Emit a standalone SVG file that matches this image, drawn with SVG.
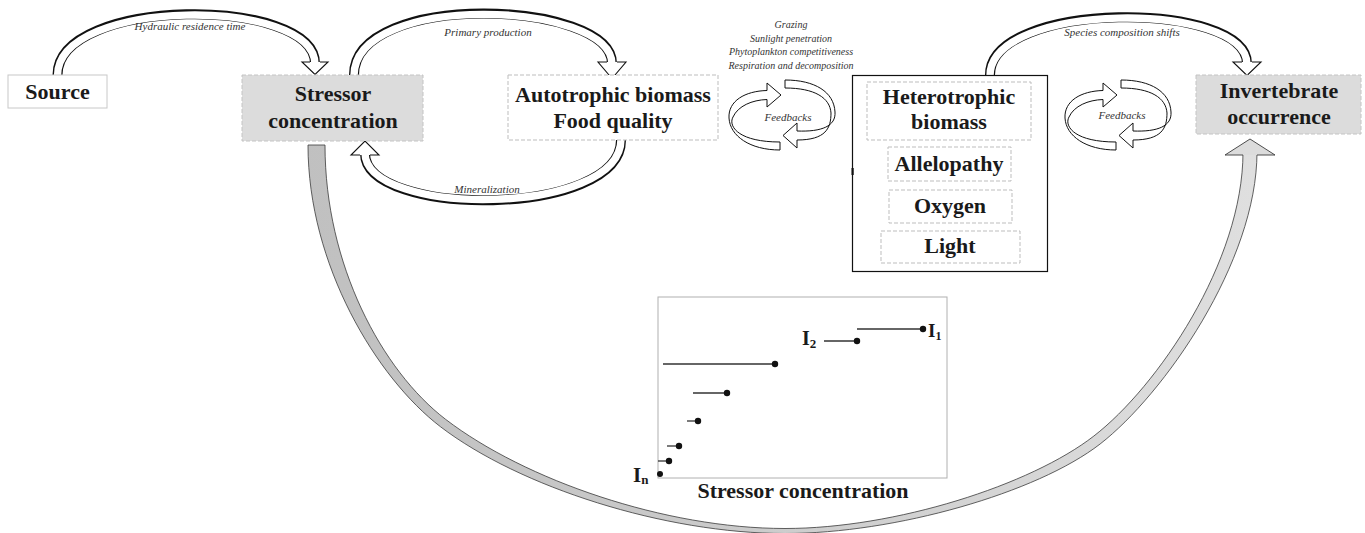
<svg xmlns="http://www.w3.org/2000/svg" width="1365" height="533" viewBox="0 0 1365 533">
<defs>
<style>
.lbl{font-family:"Liberation Serif","Times New Roman",serif;font-weight:bold;font-size:22px;fill:#1a1a1a;text-anchor:middle}
.ann{font-family:"Liberation Serif","Times New Roman",serif;font-style:italic;font-size:11px;fill:#333;text-anchor:middle}
.lst{font-family:"Liberation Serif","Times New Roman",serif;font-style:italic;font-size:10px;fill:#333;text-anchor:middle}
.sub{font-family:"Liberation Serif","Times New Roman",serif;font-weight:bold;fill:#1a1a1a}
.dash{fill:#fff;stroke:#bdbdbd;stroke-width:1;stroke-dasharray:4 2}
.gray{fill:#dcdcdc;stroke:#c4c4c4;stroke-width:1;stroke-dasharray:4 2}
.rb{fill:none;stroke:#111;stroke-width:10}
.rw{fill:none;stroke:#fff;stroke-width:7.4}
.head{fill:#fff;stroke:#111;stroke-width:1.1;stroke-linejoin:miter}
.loop{fill:#fff;stroke:#111;stroke-width:1}
.step{stroke:#333;stroke-width:1.3}
.dot{fill:#111}
</style>
<linearGradient id="bandGrad" gradientUnits="userSpaceOnUse" x1="300" y1="0" x2="1280" y2="0">
<stop offset="0" stop-color="#c0c0c0"/>
<stop offset="0.45" stop-color="#cbcbcb"/>
<stop offset="1" stop-color="#e0e0e0"/>
</linearGradient>
<g id="loopShape">
<path class="loop" d="M780,142 C738,142 728,126 733,117 C738,106 752,100 767,99.5 L767,107 L781,95 L767,83 L767,90.5 C745,91 728,101 729,118 C730,136 750,150 780,150 Z"/>
<path class="loop" d="M785,80 C815,80 834,92 835,112 C836,126 822,132 797,131 L797,123 L783,135.5 L797,148 L797,140 C826,140 831,128 831,113 C830,98 815,88 785,88 Z"/>
</g>
</defs>
<rect width="1365" height="533" fill="#fff"/>

<g id="connectors">
<!-- Hydraulic residence time -->
<path class="rb" d="M57.5,75 C57.5,-4 315,-4 315,63.5"/>
<path class="rw" d="M57.5,75 C57.5,-4 315,-4 315,63.5" transform="translate(0,0.8)"/>
<path class="head" d="M310,62 L302,62 L315,74.5 L328,62 L320,62"/>
<!-- Primary production -->
<path class="rb" d="M354,75 C354,-10 612,0 612,63.5"/>
<path class="rw" d="M354,75 C354,-10 612,0 612,63.5" transform="translate(0,0.8)"/>
<path class="head" d="M607,62 L598,62 L612,78.5 L626,62 L617,62"/>
<!-- Mineralization -->
<path class="rb" d="M621,140 C621,218 365,218 365,153.5"/>
<path class="rw" d="M621,140 C621,218 365,218 365,153.5" transform="translate(0,-0.8)"/>
<path class="head" d="M370,155 L379,155 L365,141 L351,155 L360,155"/>
<!-- Species composition shifts -->
<path class="rb" d="M990,75 C990,0 1247,0 1247,63.5"/>
<path class="rw" d="M990,75 C990,0 1247,0 1247,63.5" transform="translate(0,0.8)"/>
<path class="head" d="M1242,62 L1233,62 L1247,75.5 L1261,62 L1252,62"/>
<!-- Feedback loops -->
<use href="#loopShape"/>
<use href="#loopShape" transform="translate(336,0)"/>
<!-- Big stressor to invertebrate arc -->
<path fill="url(#bandGrad)" stroke="#3a3a3a" stroke-width="0.8" d="M308,145 C308,265 376.8,378.0 440.3,426.6 C519.7,487.3 665,533.5 785,533.5 C895,533.5 1036.9,493.0 1100.1,444.0 C1163.3,395.0 1257,262 1257,152 L1243,152 C1243,262 1157.1,387.1 1093.9,436.0 C1030.7,485.1 895,528.5 785,528.5 C665,528.5 525.1,480.1 445.7,419.4 C382.2,370.8 325,265 325,145 Z"/>
<path fill="#dcdcdc" stroke="#3a3a3a" stroke-width="0.9" d="M1243,155 L1225,155 L1250,139 L1275,155 L1257,155"/>
</g>

<g id="labels">
<text class="ann" x="190" y="30">Hydraulic residence time</text>
<text class="ann" x="488" y="36">Primary production</text>
<text class="ann" x="487" y="193">Mineralization</text>
<text class="ann" x="1122" y="36">Species composition shifts</text>
<text class="lst" x="791" y="28">Grazing</text>
<text class="lst" x="791" y="41.5">Sunlight penetration</text>
<text class="lst" x="791" y="55">Phytoplankton competitiveness</text>
<text class="lst" x="791" y="68.5">Respiration and decomposition</text>
<text class="ann" x="788" y="121">Feedbacks</text>
<text class="ann" x="1122" y="119">Feedbacks</text>
</g>

<g id="source">
<rect x="8" y="75" width="99" height="33" fill="#fff" stroke="#c8c8c8" stroke-width="1"/>
<text class="lbl" x="57.5" y="99">Source</text>
</g>

<g id="stressor">
<rect class="gray" x="242" y="75" width="181" height="66"/>
<text class="lbl" x="333" y="101">Stressor</text>
<text class="lbl" x="333" y="128">concentration</text>
</g>

<g id="autotrophic">
<rect class="dash" x="508" y="75" width="210" height="65"/>
<text class="lbl" x="613" y="102">Autotrophic biomass</text>
<text class="lbl" x="613" y="128">Food quality</text>
</g>

<g id="heterotrophic-group">
<rect x="852.5" y="75.5" width="195" height="196" fill="#fff" stroke="#111" stroke-width="1.2"/>
<rect x="851.5" y="168" width="2.2" height="7" fill="#111"/>
<g id="heterotrophic">
<rect class="dash" x="867" y="82" width="164" height="58"/>
<text class="lbl" x="949" y="104">Heterotrophic</text>
<text class="lbl" x="949" y="129">biomass</text>
</g>
<g id="allelopathy">
<rect class="dash" x="888" y="147" width="123" height="34"/>
<text class="lbl" x="949" y="171">Allelopathy</text>
</g>
<g id="oxygen">
<rect class="dash" x="889" y="190" width="123" height="33"/>
<text class="lbl" x="950" y="213">Oxygen</text>
</g>
<g id="light">
<rect class="dash" x="881" y="231" width="139" height="32"/>
<text class="lbl" x="950" y="253">Light</text>
</g>
</g>

<g id="invertebrate">
<rect class="gray" x="1196" y="75" width="165" height="59"/>
<text class="lbl" x="1279" y="98">Invertebrate</text>
<text class="lbl" x="1279" y="124">occurrence</text>
</g>

<g id="chart">
<rect x="658" y="297" width="289" height="181" fill="#fff" stroke="#b0b0b0" stroke-width="1"/>
<line class="step" x1="857" y1="329" x2="923" y2="329"/>
<circle class="dot" cx="923" cy="329" r="3.2"/>
<line class="step" x1="824" y1="341" x2="857" y2="341" stroke="#666"/>
<circle class="dot" cx="857" cy="341" r="3.2"/>
<line class="step" x1="663" y1="364" x2="775" y2="364"/>
<circle class="dot" cx="775" cy="364" r="3.2"/>
<line class="step" x1="693" y1="393" x2="727" y2="393"/>
<circle class="dot" cx="727" cy="393" r="3.2"/>
<line class="step" x1="687" y1="421" x2="698" y2="421"/>
<circle class="dot" cx="698" cy="421" r="3.2"/>
<line class="step" x1="667" y1="446" x2="679" y2="446"/>
<circle class="dot" cx="679" cy="446" r="3.2"/>
<line class="step" x1="658" y1="461" x2="669" y2="461"/>
<circle class="dot" cx="669" cy="461" r="3.2"/>
<circle class="dot" cx="660" cy="474" r="3"/>
<text class="sub" x="928" y="337" font-size="19">I<tspan font-size="12" dy="3">1</tspan></text>
<text class="sub" x="802" y="345" font-size="20">I<tspan font-size="13" dy="3">2</tspan></text>
<text class="sub" x="633" y="482" font-size="21">I<tspan font-size="13" dy="2">n</tspan></text>
<text class="lbl" x="803" y="498">Stressor concentration</text>
</g>
</svg>
